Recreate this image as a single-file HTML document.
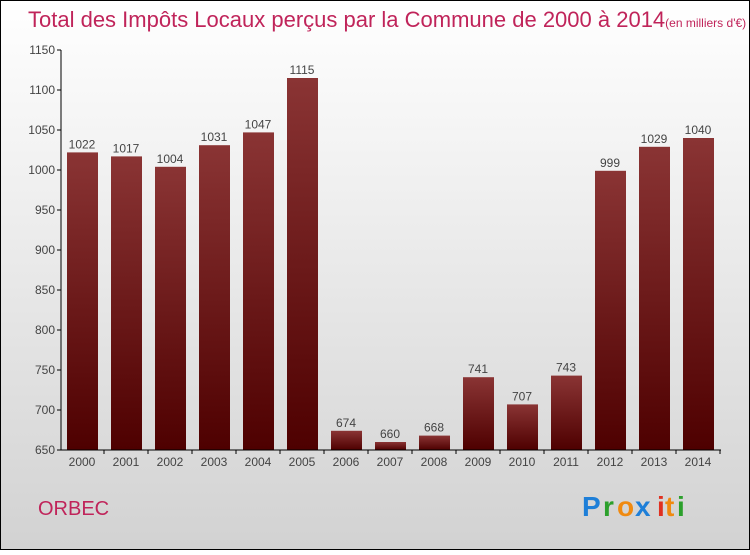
<!DOCTYPE html>
<html><head><meta charset="utf-8"><style>
body{margin:0}
svg text{font-family:"Liberation Sans",sans-serif}
</style></head><body>
<svg id="c" width="750" height="550" xmlns="http://www.w3.org/2000/svg">
<defs>
<linearGradient id="bg" x1="0" y1="0" x2="0" y2="1"><stop offset="0" stop-color="#ffffff"/><stop offset="1" stop-color="#d2d2d2"/></linearGradient>
<linearGradient id="bar" x1="0" y1="0" x2="0" y2="1"><stop offset="0" stop-color="#8a3434"/><stop offset="1" stop-color="#4e0000"/></linearGradient>
</defs>
<rect x="0.5" y="0.5" width="749" height="549" fill="url(#bg)" stroke="#000"/>
<text x="28" y="27" font-size="22" fill="#c0245a">Total des Impôts Locaux perçus par la Commune de 2000 à 2014<tspan font-size="12">(en milliers d'€)</tspan></text>
<g id="plot"></g>
<text x="38" y="515" font-size="20" fill="#c0245a">ORBEC</text>
<g font-size="28" font-weight="bold">
<text x="582" y="516" fill="#1e7fd8">P</text><text x="603" y="516" fill="#2ca02c">r</text><text x="617" y="516" fill="#f08a10">o</text><text x="635" y="516" fill="#1e7fd8">x</text><text x="657" y="516" fill="#e03020">i</text><text x="665" y="516" fill="#f08a10">t</text><text x="677" y="516" fill="#2ca02c">i</text>
</g>
</svg>
<script>
const years=["2000","2001","2002","2003","2004","2005","2006","2007","2008","2009","2010","2011","2012","2013","2014"];
const values=[1022,1017,1004,1031,1047,1115,674,660,668,741,707,743,999,1029,1040];
const yTicks=[650,700,750,800,850,900,950,1000,1050,1100,1150];
const NS="http://www.w3.org/2000/svg";
const g=document.getElementById("plot");
const y=v=>450-(v-650)*0.8;
const x=i=>82+i*44;
function mk(t,a){const e=document.createElementNS(NS,t);for(const k in a)e.setAttribute(k,a[k]);g.appendChild(e);return e;}
yTicks.forEach(t=>{
 const l=mk("line",{x1:57,x2:61,y1:y(t),y2:y(t),stroke:"#000"});
 
 
 const tx=mk("text",{x:55,y:y(t)+4,"font-size":12,fill:"#444","text-anchor":"end"});tx.textContent=t;
 
 
});
values.forEach((v,i)=>{
 const r=mk("rect",{x:x(i)-15,y:y(v),width:31,height:450-y(v),fill:"url(#bar)"});
 
 
 const lb=mk("text",{x:x(i),y:y(v)-4,"font-size":12,fill:"#444","text-anchor":"middle"});lb.textContent=v;
 
 
 const xl=mk("text",{x:x(i),y:466,"font-size":12,fill:"#444","text-anchor":"middle"});xl.textContent=years[i];
 
 
 const tk=mk("line",{x1:x(i)+22,x2:x(i)+22,y1:450,y2:454,stroke:"#000"});
 
 
});
const ya=mk("line",{x1:61,x2:61,y1:50,y2:450,stroke:"#000"});


const xa=mk("line",{x1:61,x2:721,y1:450,y2:450,stroke:"#000"});


</script>
</body></html>
